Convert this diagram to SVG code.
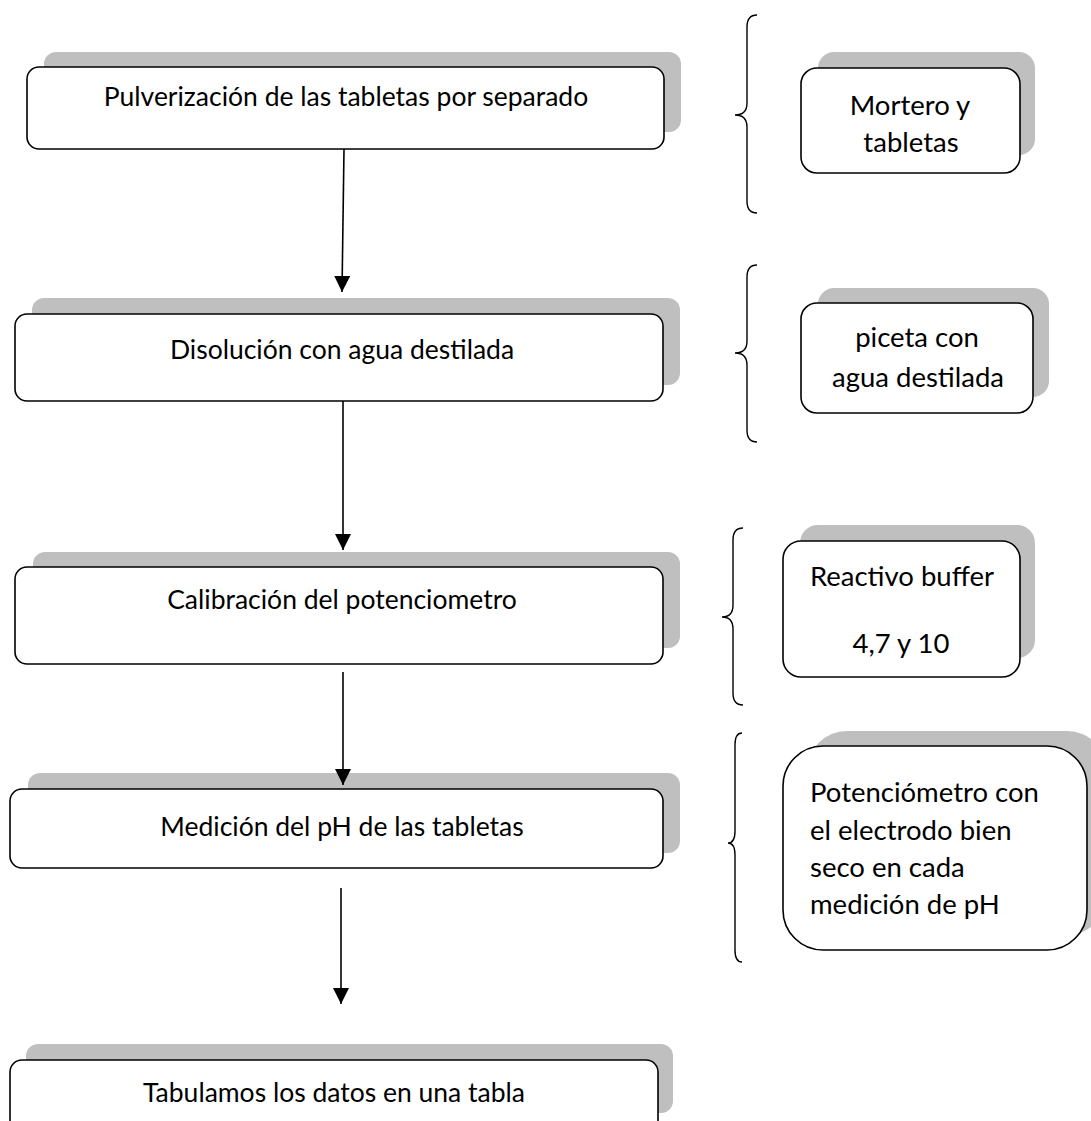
<svg xmlns="http://www.w3.org/2000/svg" width="1091" height="1121" viewBox="0 0 1091 1121">
<style>
.sh{fill:#bfbfbf;stroke:none}
.bx{fill:#fff;stroke:#000;stroke-width:1.6}
.t{font-family:Lato,"Open Sans","Liberation Sans",sans-serif;font-size:26.5px;fill:#000;text-anchor:middle}
.r{font-family:Lato,"Open Sans","Liberation Sans",sans-serif;font-size:27.5px;fill:#000;text-anchor:middle}
.rl{font-family:Lato,"Open Sans","Liberation Sans",sans-serif;font-size:27.5px;fill:#000}
.br{fill:none;stroke:#000;stroke-width:1.4}
.ar{fill:none;stroke:#000;stroke-width:1.6}
</style>
<defs>
<marker id="ah" markerUnits="userSpaceOnUse" markerWidth="16" markerHeight="18" refX="16" refY="8" orient="auto">
<path d="M0,0 L16,8 L0,16 Z" fill="#000"/>
</marker>
</defs>
<g id="n1">
<rect class="sh" x="44" y="52" width="637" height="80" rx="12"/>
<rect class="bx" x="27" y="67" width="637" height="82" rx="12"/>
<text class="t" x="346" y="106">Pulverización de las tabletas por separado</text>
</g>
<g id="n2">
<rect class="sh" x="32" y="298" width="648" height="87" rx="12"/>
<rect class="bx" x="15" y="314" width="648" height="87" rx="12"/>
<text class="t" x="342" y="359">Disolución con agua destilada</text>
</g>
<g id="n3">
<rect class="sh" x="33" y="552" width="647" height="96" rx="12"/>
<rect class="bx" x="15" y="567" width="648" height="97" rx="12"/>
<text class="t" x="342" y="609">Calibración del potenciometro</text>
</g>
<g id="n4">
<rect class="sh" x="28" y="773" width="652" height="80" rx="12"/>
<rect class="bx" x="10" y="789" width="653" height="79" rx="12"/>
<text class="t" x="342" y="836">Medición del pH de las tabletas</text>
</g>
<g id="n5">
<rect class="sh" x="26" y="1044" width="647" height="69" rx="12"/>
<rect class="bx" x="10" y="1060" width="648" height="90" rx="12"/>
<text class="t" x="334" y="1102">Tabulamos los datos en una tabla</text>
</g>
<g id="r1">
<rect class="sh" x="818" y="52" width="217" height="103" rx="16"/>
<rect class="bx" x="801" y="68" width="219" height="105" rx="16"/>
<text class="r" x="910" y="115">Mortero y</text>
<text class="r" x="911" y="152">tabletas</text>
</g>
<g id="r2">
<rect class="sh" x="818" y="288" width="231" height="109" rx="16"/>
<rect class="bx" x="801" y="303" width="232" height="110" rx="16"/>
<text class="r" x="917" y="347">piceta con</text>
<text class="r" x="918" y="387">agua destilada</text>
</g>
<g id="r3">
<rect class="sh" x="800" y="525" width="235" height="133" rx="18"/>
<rect class="bx" x="783" y="541" width="237" height="136" rx="18"/>
<text class="r" x="902" y="586">Reactivo buffer</text>
<text class="r" x="901" y="653">4,7 y 10</text>
</g>
<g id="r4">
<rect class="sh" x="807" y="731" width="300" height="204" rx="40"/>
<rect class="bx" x="783" y="746" width="304" height="204" rx="40"/>
<text class="rl" x="810" y="802">Potenciómetro con</text>
<text class="rl" x="810" y="840">el electrodo bien</text>
<text class="rl" x="810" y="877">seco en cada</text>
<text class="rl" x="810" y="914">medición de pH</text>
</g>
<g id="braces">
<path class="br" d="M757,15 Q747,15 747,27 L747,103 Q747,115 735,115 Q747,115 747,127 L747,201 Q747,213 757,213"/>
<path class="br" d="M757,265 Q747,265 747,277 L747,341 Q747,353 735,353 Q747,353 747,365 L747,430 Q747,442 757,442"/>
<path class="br" d="M743,528 Q733,528 733,540 L733,605 Q733,617 722,617 Q733,617 733,629 L733,693 Q733,705 743,705"/>
<path class="br" d="M742,733 Q735,733 735,745 L735,831 Q735,843 728,843 Q735,843 735,855 L735,950 Q735,962 742,962"/>
</g>
<g id="connectors">
<path class="ar" d="M344,149 L342,292" marker-end="url(#ah)"/>
<path class="ar" d="M343,401 L343,550" marker-end="url(#ah)"/>
<path class="ar" d="M343,672 L343,785" marker-end="url(#ah)"/>
<path class="ar" d="M341,888 L341,1004" marker-end="url(#ah)"/>
</g>
</svg>
